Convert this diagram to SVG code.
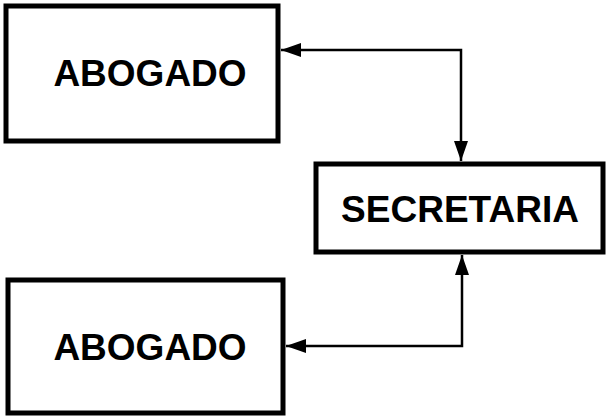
<svg xmlns="http://www.w3.org/2000/svg" width="607" height="418" viewBox="0 0 607 418">
<style>
.box{fill:#fff;stroke:#000;stroke-width:5}
.lbl{font-family:"Liberation Sans",Arial,sans-serif;font-weight:bold;fill:#000;text-anchor:middle}
.conn{fill:none;stroke:#000;stroke-width:2.5}
</style>
<defs>
<marker id="ah" markerUnits="userSpaceOnUse" markerWidth="20" markerHeight="14" refX="20" refY="7" orient="auto-start-reverse">
<path d="M0,0 L20,7 L0,14 z" fill="#000"/>
</marker>
</defs>
<rect width="607" height="418" fill="#fff"/>
<g id="abogado1">
<rect class="box" x="6" y="6" width="272" height="135"/>
<text class="lbl" x="150" y="86" font-size="37">ABOGADO</text>
</g>
<g id="secretaria">
<rect class="box" x="316" y="164" width="287" height="88"/>
<text class="lbl" x="460" y="222" font-size="37">SECRETARIA</text>
</g>
<g id="abogado2">
<rect class="box" x="8" y="280" width="275" height="133"/>
<text class="lbl" x="150" y="360" font-size="37">ABOGADO</text>
</g>
<g id="connectors">
<path class="conn" d="M281,50 L461,50 L461,161" marker-start="url(#ah)" marker-end="url(#ah)"/>
<path class="conn" d="M462,255 L462,346 L286,346" marker-start="url(#ah)" marker-end="url(#ah)"/>
</g>
</svg>
